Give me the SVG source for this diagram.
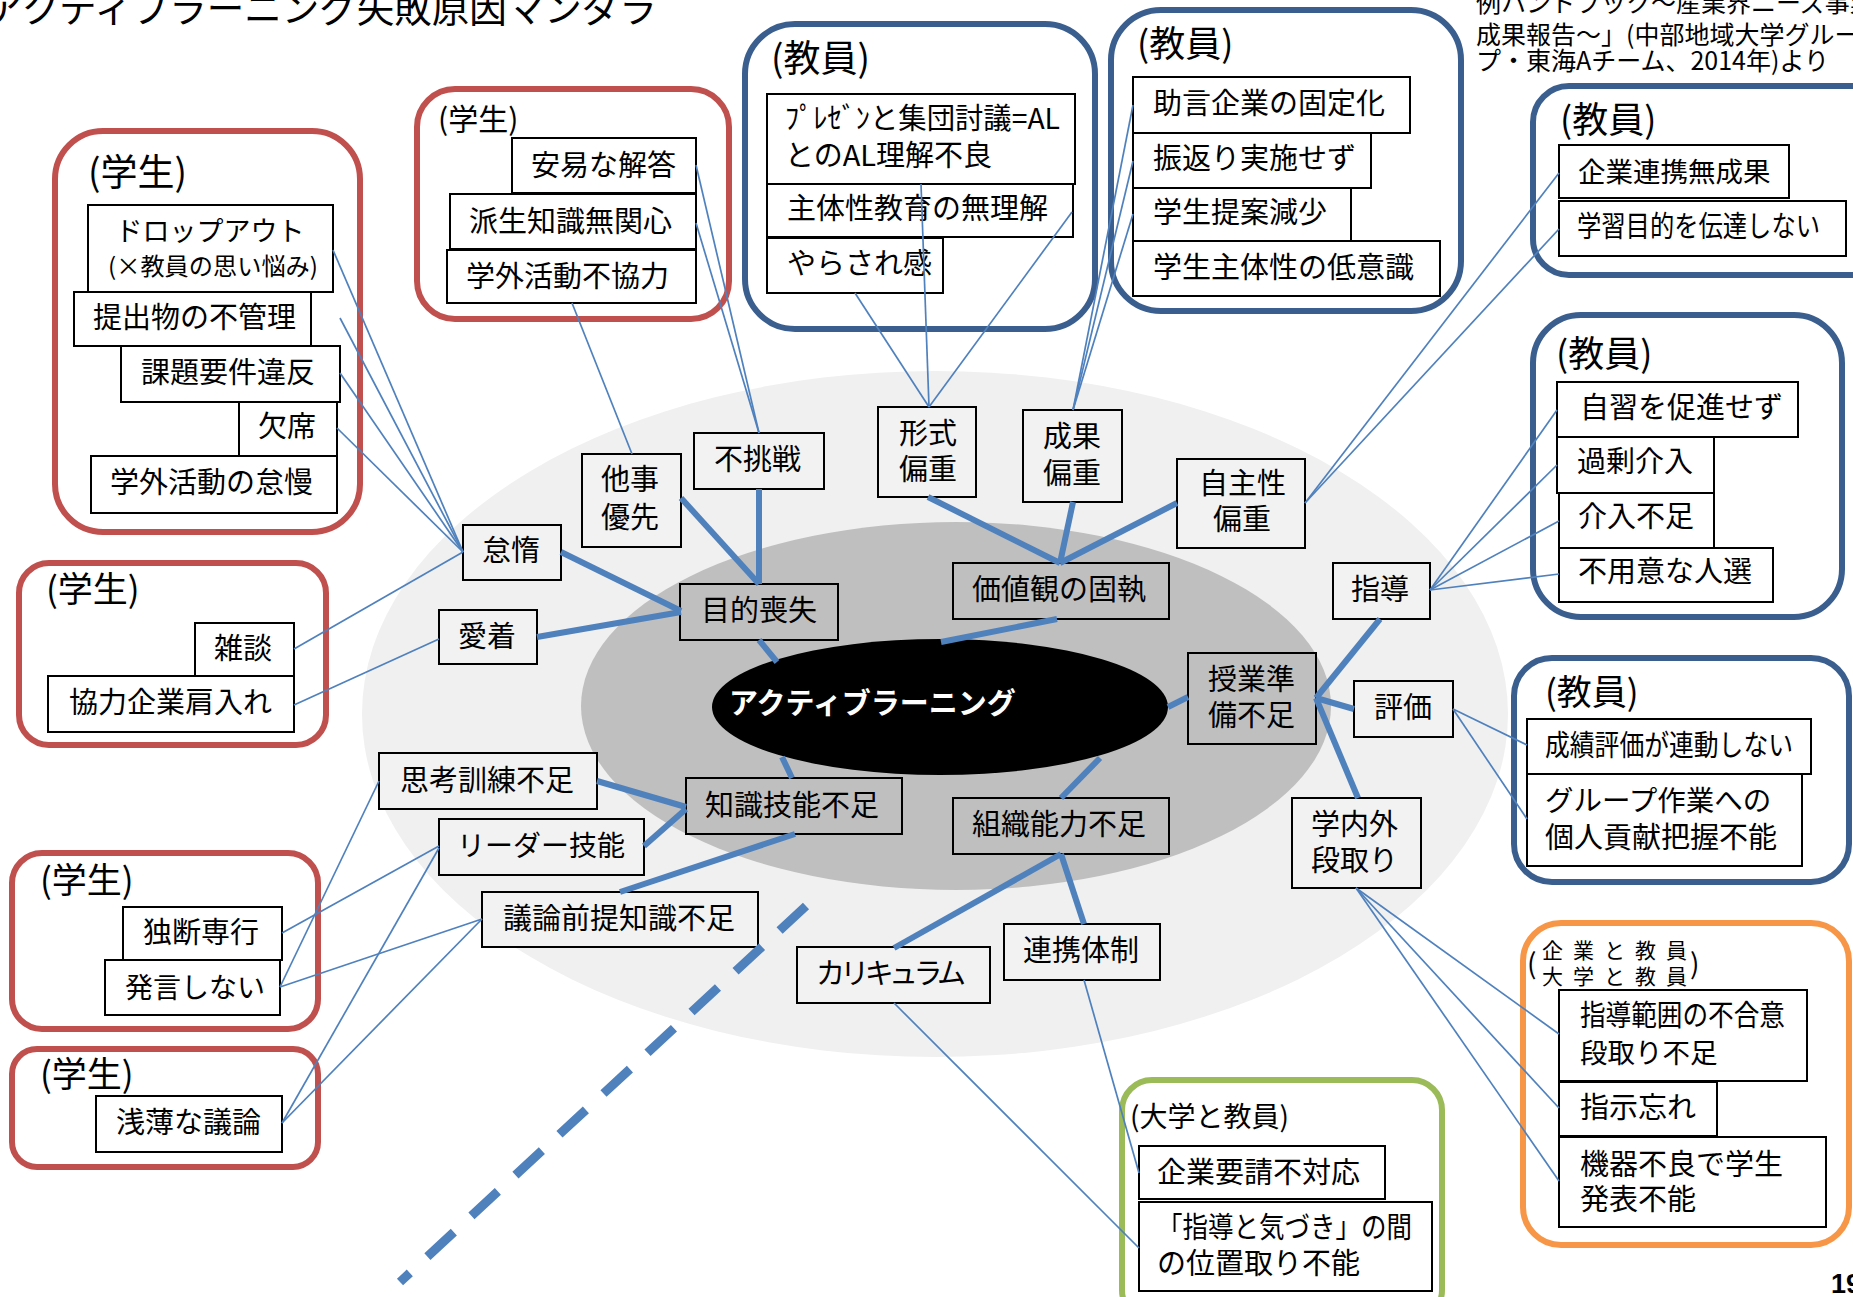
<svg xmlns="http://www.w3.org/2000/svg" width="1853" height="1297" viewBox="0 0 1853 1297" font-family="'Noto Sans CJK JP', 'Liberation Sans', sans-serif" font-size="29">
<style>
.box { fill: #fff; stroke: #000; stroke-width: 2; }
.lb { fill: #f2f2f2; stroke: #000; stroke-width: 2; }
.db { fill: #bfbfbf; stroke: #000; stroke-width: 2; }
.gr { fill: #fff; stroke: #c0504d; stroke-width: 6; }
.gb { fill: #fff; stroke: #3a5f8f; stroke-width: 6; }
.go { fill: #fff; stroke: #f79646; stroke-width: 6; }
.gg { fill: #fff; stroke: #9bbb59; stroke-width: 6; }
.thin line { stroke: #4f81bd; stroke-width: 1.7; }
.thick line { stroke: #4f81bd; stroke-width: 6; }
</style>
<rect x="0" y="0" width="1853" height="1297" fill="#fff"/>

<!-- background ellipses -->
<ellipse cx="935" cy="714" rx="573" ry="343" fill="#f0f0f0"/>
<ellipse cx="956" cy="706" rx="375" ry="184" fill="#bfbfbf"/>

<!-- title & citation -->
<text x="-14" y="22" font-size="37.5">アクティブラーニング失敗原因マンダラ</text>
<text x="1476" y="12" font-size="25">例ハンドブック～産業界ニーズ事業</text>
<text x="1476" y="44" font-size="25">成果報告～」(中部地域大学グルー</text>
<text x="1476" y="70" font-size="25">プ・東海Aチーム、2014年)より</text>

<!-- groups -->
<g id="g1">
<rect class="gr" x="55" y="131" width="305" height="401" rx="48"/>
<text x="88" y="186" font-size="37">(学生)</text>
<rect class="box" x="88" y="205" width="245" height="87"/>
<text x="210" y="241" text-anchor="middle" font-size="27">ドロップアウト</text>
<text x="213" y="275" text-anchor="middle" font-size="24" textLength="210" lengthAdjust="spacingAndGlyphs">(×教員の思い悩み)</text>
<rect class="box" x="74" y="292" width="237" height="54"/>
<text x="93" y="328">提出物の不管理</text>
<rect class="box" x="121" y="346" width="219" height="56"/>
<text x="141" y="383">課題要件違反</text>
<rect class="box" x="239" y="402" width="98" height="54"/>
<text x="258" y="437">欠席</text>
<rect class="box" x="91" y="456" width="246" height="57"/>
<text x="110" y="493">学外活動の怠慢</text>
</g>

<g id="g2">
<rect class="gr" x="417" y="89" width="312" height="230" rx="38"/>
<text x="438" y="130" font-size="30">(学生)</text>
<rect class="box" x="512" y="138" width="184" height="55"/>
<text x="531" y="176">安易な解答</text>
<rect class="box" x="450" y="194" width="246" height="55"/>
<text x="469" y="232">派生知識無関心</text>
<rect class="box" x="447" y="250" width="249" height="53"/>
<text x="466" y="287">学外活動不協力</text>
</g>

<g id="g3">
<rect class="gb" x="745" y="24" width="350" height="305" rx="50"/>
<text x="771" y="72" font-size="37">(教員)</text>
<rect class="box" x="767" y="94" width="308" height="90"/>
<text x="785" y="129" textLength="275" lengthAdjust="spacingAndGlyphs">ﾌﾟﾚｾﾞﾝと集団討議=AL</text>
<text x="785" y="166">とのAL理解不良</text>
<rect class="box" x="767" y="184" width="306" height="53"/>
<text x="787" y="219">主体性教育の無理解</text>
<rect class="box" x="767" y="238" width="176" height="55"/>
<text x="787" y="274">やらされ感</text>
</g>

<g id="g4">
<rect class="gb" x="1111" y="10" width="350" height="301" rx="50"/>
<text x="1137" y="57" font-size="36">(教員)</text>
<rect class="box" x="1133" y="77" width="277" height="56"/>
<text x="1153" y="114">助言企業の固定化</text>
<rect class="box" x="1133" y="133" width="238" height="55"/>
<text x="1153" y="169">振返り実施せず</text>
<rect class="box" x="1133" y="188" width="218" height="53"/>
<text x="1153" y="223">学生提案減少</text>
<rect class="box" x="1133" y="241" width="307" height="55"/>
<text x="1153" y="278">学生主体性の低意識</text>
</g>

<g id="g5">
<rect class="gb" x="1533" y="86" width="360" height="189" rx="36"/>
<text x="1560" y="133" font-size="36">(教員)</text>
<rect class="box" x="1559" y="145" width="230" height="53"/>
<text x="1578" y="182" font-size="27.5">企業連携無成果</text>
<rect class="box" x="1559" y="201" width="287" height="55"/>
<text x="1577" y="237" textLength="243" lengthAdjust="spacingAndGlyphs">学習目的を伝達しない</text>
</g>

<g id="g6">
<rect class="gb" x="1533" y="315" width="309" height="302" rx="48"/>
<text x="1556" y="367" font-size="36">(教員)</text>
<rect class="box" x="1557" y="382" width="241" height="55"/>
<text x="1580" y="418">自習を促進せず</text>
<rect class="box" x="1557" y="437" width="157" height="56"/>
<text x="1577" y="472">過剰介入</text>
<rect class="box" x="1559" y="493" width="155" height="55"/>
<text x="1578" y="527">介入不足</text>
<rect class="box" x="1559" y="548" width="214" height="54"/>
<text x="1578" y="582">不用意な人選</text>
</g>

<g id="g7">
<rect class="gr" x="19" y="563" width="307" height="182" rx="30"/>
<text x="46" y="602" font-size="35">(学生)</text>
<rect class="box" x="195" y="623" width="99" height="53"/>
<text x="214" y="659">雑談</text>
<rect class="box" x="48" y="676" width="246" height="56"/>
<text x="69" y="713">協力企業肩入れ</text>
</g>

<g id="g8">
<rect class="gr" x="12" y="853" width="306" height="176" rx="30"/>
<text x="40" y="893" font-size="35">(学生)</text>
<rect class="box" x="123" y="907" width="159" height="53"/>
<text x="143" y="943">独断専行</text>
<rect class="box" x="105" y="960" width="175" height="55"/>
<text x="125" y="998" font-size="28">発言しない</text>
</g>

<g id="g9">
<rect class="gr" x="12" y="1049" width="306" height="118" rx="25"/>
<text x="40" y="1087" font-size="35">(学生)</text>
<rect class="box" x="96" y="1096" width="186" height="56"/>
<text x="116" y="1133">浅薄な議論</text>
</g>

<g id="g10">
<rect class="gb" x="1514" y="658" width="335" height="224" rx="38"/>
<text x="1545" y="705" font-size="35">(教員)</text>
<rect class="box" x="1527" y="719" width="284" height="55"/>
<text x="1545" y="756" textLength="248" lengthAdjust="spacingAndGlyphs">成績評価が連動しない</text>
<rect class="box" x="1527" y="774" width="275" height="92"/>
<text x="1545" y="811" font-size="28.5">グループ作業への</text>
<text x="1545" y="848">個人貢献把握不能</text>
</g>

<g id="g11">
<rect class="go" x="1523" y="923" width="326" height="322" rx="38"/>
<text x="1527" y="974" font-size="28">(</text>
<text x="1542" y="958" font-size="21" textLength="145" lengthAdjust="spacing">企業と教員</text>
<text x="1542" y="984" font-size="21" textLength="145" lengthAdjust="spacing">大学と教員</text>
<text x="1690" y="974" font-size="28">)</text>
<rect class="box" x="1559" y="990" width="248" height="91"/>
<text x="1580" y="1026" textLength="205" lengthAdjust="spacingAndGlyphs">指導範囲の不合意</text>
<text x="1580" y="1063" font-size="27.5">段取り不足</text>
<rect class="box" x="1559" y="1082" width="158" height="54"/>
<text x="1580" y="1118">指示忘れ</text>
<rect class="box" x="1559" y="1137" width="267" height="90"/>
<text x="1580" y="1175">機器不良で学生</text>
<text x="1580" y="1210">発表不能</text>
</g>

<g id="g12">
<rect class="gg" x="1122" y="1080" width="320" height="240" rx="30"/>
<text x="1130" y="1127" font-size="28">(大学と教員)</text>
<rect class="box" x="1139" y="1146" width="246" height="53"/>
<text x="1157" y="1183">企業要請不対応</text>
<rect class="box" x="1139" y="1202" width="293" height="89"/>
<text x="1157" y="1238" textLength="255" lengthAdjust="spacingAndGlyphs">「指導と気づき」の間</text>
<text x="1157" y="1274">の位置取り不能</text>
</g>

<!-- center nodes -->
<g id="n-center">
<ellipse cx="940" cy="707" rx="228" ry="68" fill="#000"/>
<text x="729" y="714" font-size="29" font-weight="bold" fill="#fff">アクティブラーニング</text>
</g>
<g id="n-taida"><rect class="lb" x="463" y="525" width="98" height="55"/><text x="482" y="561">怠惰</text></g>
<g id="n-aichaku"><rect class="lb" x="439" y="610" width="98" height="54"/><text x="458" y="647">愛着</text></g>
<g id="n-taji"><rect class="lb" x="582" y="454" width="99" height="93"/><text x="601" y="490">他事</text><text x="601" y="528">優先</text></g>
<g id="n-fuchousen"><rect class="lb" x="694" y="433" width="130" height="56"/><text x="714" y="470">不挑戦</text></g>
<g id="n-keishiki"><rect class="lb" x="878" y="407" width="98" height="90"/><text x="899" y="444">形式</text><text x="899" y="480">偏重</text></g>
<g id="n-seika"><rect class="lb" x="1023" y="410" width="99" height="92"/><text x="1043" y="447">成果</text><text x="1043" y="484">偏重</text></g>
<g id="n-jishu"><rect class="lb" x="1177" y="459" width="128" height="89"/><text x="1199" y="494">自主性</text><text x="1213" y="530">偏重</text></g>
<g id="n-mokuteki"><rect class="db" x="680" y="584" width="158" height="56"/><text x="701" y="621">目的喪失</text></g>
<g id="n-kachikan"><rect class="db" x="953" y="563" width="216" height="56"/><text x="972" y="600">価値観の固執</text></g>
<g id="n-shidou"><rect class="lb" x="1333" y="563" width="97" height="56"/><text x="1351" y="600">指導</text></g>
<g id="n-jugyou"><rect class="db" x="1188" y="653" width="128" height="91"/><text x="1208" y="690">授業準</text><text x="1208" y="726">備不足</text></g>
<g id="n-hyouka"><rect class="lb" x="1354" y="681" width="99" height="56"/><text x="1374" y="718">評価</text></g>
<g id="n-dandori"><rect class="lb" x="1292" y="798" width="129" height="90"/><text x="1311" y="835">学内外</text><text x="1311" y="871">段取り</text></g>
<g id="n-shikou"><rect class="lb" x="379" y="753" width="218" height="56"/><text x="400" y="791">思考訓練不足</text></g>
<g id="n-leader"><rect class="lb" x="439" y="819" width="205" height="56"/><text x="457" y="856" font-size="28">リーダー技能</text></g>
<g id="n-chishiki"><rect class="db" x="686" y="778" width="216" height="56"/><text x="705" y="816">知識技能不足</text></g>
<g id="n-soshiki"><rect class="db" x="953" y="798" width="216" height="56"/><text x="972" y="835">組織能力不足</text></g>
<g id="n-giron"><rect class="lb" x="482" y="892" width="276" height="55"/><text x="503" y="929">議論前提知識不足</text></g>
<g id="n-curriculum"><rect class="lb" x="797" y="947" width="193" height="56"/><text x="816" y="984" textLength="150" lengthAdjust="spacing">カリキュラム</text></g>
<g id="n-renkei"><rect class="lb" x="1004" y="924" width="156" height="56"/><text x="1023" y="961">連携体制</text></g>

<!-- connectors -->
<g id="connectors">
<g class="thick">
<line x1="561" y1="552" x2="681" y2="611"/>
<line x1="537" y1="637" x2="681" y2="612"/>
<line x1="681" y1="498" x2="759" y2="584"/>
<line x1="759" y1="489" x2="759" y2="584"/>
<line x1="759" y1="640" x2="777" y2="662"/>
<line x1="928" y1="497" x2="1060" y2="563"/>
<line x1="1073" y1="502" x2="1060" y2="563"/>
<line x1="1177" y1="503" x2="1060" y2="563"/>
<line x1="1057" y1="619" x2="941" y2="642"/>
<line x1="792" y1="778" x2="782" y2="757"/>
<line x1="1061" y1="798" x2="1100" y2="758"/>
<line x1="1188" y1="697" x2="1168" y2="707"/>
<line x1="597" y1="781" x2="686" y2="807"/>
<line x1="644" y1="846" x2="686" y2="809"/>
<line x1="620" y1="892" x2="795" y2="834"/>
<line x1="894" y1="948" x2="1061" y2="854"/>
<line x1="1084" y1="924" x2="1061" y2="854"/>
<line x1="1380" y1="619" x2="1316" y2="698"/>
<line x1="1354" y1="709" x2="1316" y2="698"/>
<line x1="1358" y1="798" x2="1316" y2="698"/>
</g>
<line x1="806" y1="906" x2="400" y2="1282" stroke="#4f81bd" stroke-width="9" stroke-dasharray="36 24"/>
<g class="thin">
<line x1="463" y1="552" x2="333" y2="250"/>
<line x1="463" y1="552" x2="340" y2="318"/>
<line x1="463" y1="552" x2="340" y2="373"/>
<line x1="463" y1="552" x2="337" y2="428"/>
<line x1="463" y1="552" x2="294" y2="649"/>
<line x1="439" y1="639" x2="294" y2="705"/>
<line x1="759" y1="433" x2="696" y2="165"/>
<line x1="759" y1="433" x2="696" y2="223"/>
<line x1="632" y1="454" x2="572" y2="303"/>
<line x1="929" y1="407" x2="921" y2="184"/>
<line x1="929" y1="407" x2="1072" y2="212"/>
<line x1="929" y1="407" x2="855" y2="293"/>
<line x1="1073" y1="410" x2="1133" y2="105"/>
<line x1="1073" y1="410" x2="1133" y2="161"/>
<line x1="1073" y1="410" x2="1133" y2="214"/>
<line x1="1305" y1="503" x2="1559" y2="173"/>
<line x1="1305" y1="503" x2="1559" y2="229"/>
<line x1="1430" y1="590" x2="1557" y2="410"/>
<line x1="1430" y1="590" x2="1557" y2="465"/>
<line x1="1430" y1="590" x2="1559" y2="521"/>
<line x1="1430" y1="590" x2="1559" y2="574"/>
<line x1="1453" y1="709" x2="1527" y2="745"/>
<line x1="1453" y1="709" x2="1527" y2="819"/>
<line x1="1356" y1="888" x2="1559" y2="1034"/>
<line x1="1356" y1="888" x2="1559" y2="1108"/>
<line x1="1356" y1="888" x2="1559" y2="1181"/>
<line x1="1084" y1="980" x2="1139" y2="1173"/>
<line x1="894" y1="1003" x2="1139" y2="1248"/>
<line x1="379" y1="781" x2="280" y2="987"/>
<line x1="439" y1="846" x2="282" y2="933"/>
<line x1="482" y1="919" x2="280" y2="987"/>
<line x1="439" y1="848" x2="282" y2="1123"/>
<line x1="482" y1="919" x2="282" y2="1123"/>
</g>
</g>

<text x="1831" y="1293" font-family="'Liberation Sans', sans-serif" font-size="27" font-weight="bold">19</text>
</svg>
